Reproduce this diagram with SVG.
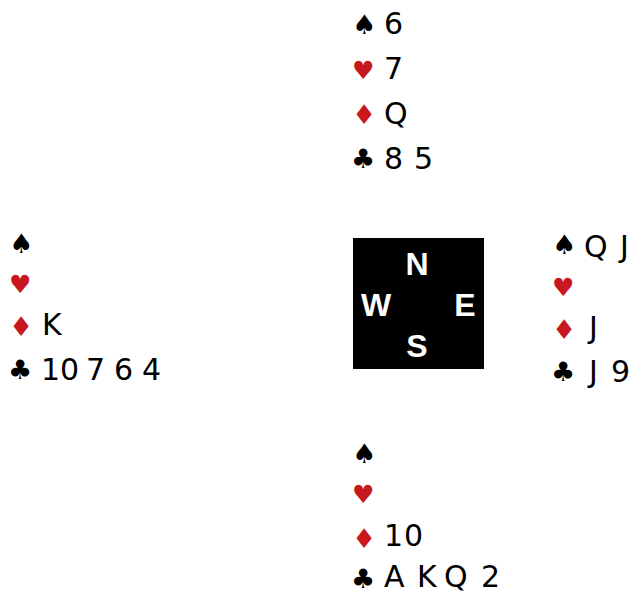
<svg xmlns="http://www.w3.org/2000/svg" width="643" height="594" viewBox="0 0 643 594">
<style>
.r{font-family:"DejaVu Sans","Liberation Sans",sans-serif;font-size:30px;fill:#000}
.s{font-family:"DejaVu Sans","Liberation Sans",sans-serif;font-size:25px}
.k{font-size:27px}
.b{fill:#000}
.h{fill:#c8171e}
.c{font-family:"Liberation Sans",Arial,sans-serif;font-weight:bold;font-size:32px;fill:#fff;text-anchor:middle}
</style>
<rect width="643" height="594" fill="#fff"/>
<g id="north">
<text class="s k b" x="352" y="34">♠</text><text class="r" x="384" y="34">6</text>
<text class="s h" x="352" y="79">♥</text><text class="r" x="384" y="79">7</text>
<text class="s k h" x="352" y="124">♦</text><text class="r" x="384" y="124">Q</text>
<text class="s k b" x="351" y="168">♣</text><text class="r" x="384 404 414" y="169">8 5</text>
</g>
<g id="west">
<text class="s k b" x="9" y="253">♠</text>
<text class="s h" x="9" y="293">♥</text>
<text class="s k h" x="9" y="336">♦</text><text class="r" x="42" y="335">K</text>
<text class="s k b" x="8" y="379">♣</text><text class="r" x="41 60 79 86 105 114 133 142" y="380">10 7 6 4</text>
</g>
<g id="east">
<text class="s k b" x="552" y="254">♠</text><text class="r" x="584 609 620" y="257">Q J</text>
<text class="s h" x="552" y="296">♥</text>
<text class="s k h" x="552" y="339">♦</text><text class="r" x="589" y="338">J</text>
<text class="s k b" x="551" y="381">♣</text><text class="r" x="589 598 611" y="382">J 9</text>
</g>
<g id="south">
<text class="s k b" x="352" y="463">♠</text>
<text class="s h" x="352" y="503">♥</text>
<text class="s k h" x="352" y="548">♦</text><text class="r" x="384 404" y="546">10</text>
<text class="s k b" x="351" y="588">♣</text><text class="r" x="384 406 417 437 444 468 481" y="587">A K Q 2</text>
</g>
<g id="compass">
<rect x="353" y="238" width="131" height="131" fill="#000"/>
<text class="c" x="417" y="275">N</text>
<text class="c" x="376" y="316">W</text>
<text class="c" x="465" y="316">E</text>
<text class="c" x="417" y="357">S</text>
</g>
</svg>
